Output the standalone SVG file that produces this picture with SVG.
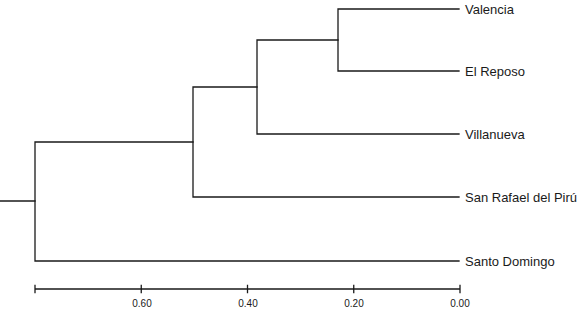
<svg xmlns="http://www.w3.org/2000/svg" width="580" height="310" viewBox="0 0 580 310">
<style>
.e{fill:none;stroke:#1a1a1a;stroke-width:1.3;stroke-linecap:square}
.lb{font-family:"Liberation Sans",Arial,sans-serif;font-size:13px;fill:#1a1a1a}
.ax{font-family:"Liberation Sans",Arial,sans-serif;font-size:10px;fill:#1a1a1a;text-anchor:middle}
</style>
<rect width="580" height="310" fill="#fff"/>
<g id="connectors">
<path class="e" d="M338,9 H459 M338,71 H459 M338,9 V71"/>
<path class="e" d="M257,40 H338 M257,134 H459 M257,40 V134"/>
<path class="e" d="M193,87 H257 M193,197 H459 M193,87 V197"/>
<path class="e" d="M35,142 H193 M35,261 H459 M35,142 V261"/>
<path class="e" d="M0,201 H35"/>
</g>
<g id="leaf-valencia"><text class="lb" x="465" y="13.5">Valencia</text></g>
<g id="leaf-el-reposo"><text class="lb" x="465" y="75.5">El Reposo</text></g>
<g id="leaf-villanueva"><text class="lb" x="465" y="138.5">Villanueva</text></g>
<g id="leaf-san-rafael"><text class="lb" x="465" y="201.5">San Rafael del Pirú</text></g>
<g id="leaf-santo-domingo"><text class="lb" x="465" y="265.5">Santo Domingo</text></g>
<g id="axis">
<path class="e" d="M35,289 H460 M35,285.5 V292.5 M141.25,285.5 V292.5 M247.5,285.5 V292.5 M353.75,285.5 V292.5 M460,285.5 V292.5"/>
<text class="ax" x="142" y="307">0.60</text>
<text class="ax" x="248" y="307">0.40</text>
<text class="ax" x="354" y="307">0.20</text>
<text class="ax" x="460" y="307">0.00</text>
</g>
</svg>
